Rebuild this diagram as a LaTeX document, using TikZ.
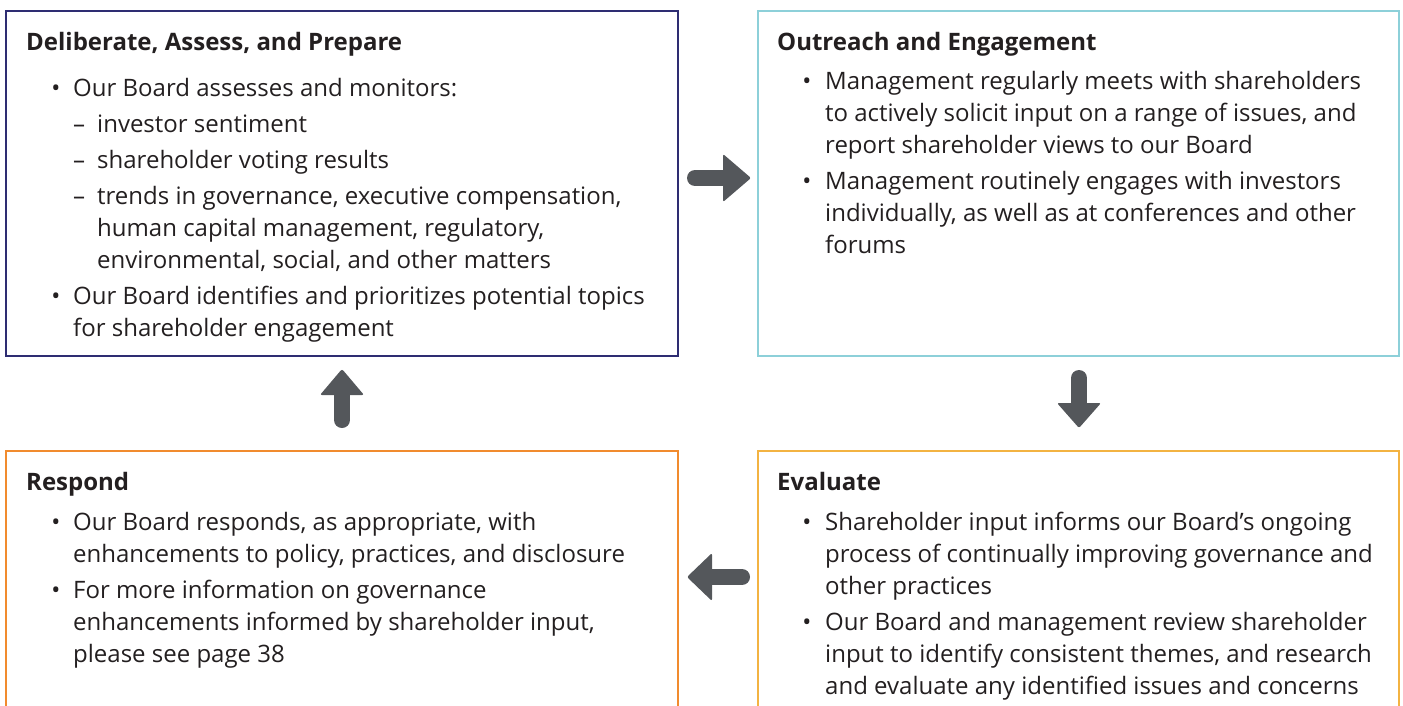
\documentclass[tikz,border=0pt]{standalone}
\usepackage{fontspec}
\setmainfont{Open Sans}
\definecolor{navyc}{HTML}{2E2D72}
\definecolor{tealc}{HTML}{8DD0D9}
\definecolor{orangec}{HTML}{F18B2E}
\definecolor{goldc}{HTML}{F3B342}
\definecolor{txtc}{HTML}{231F20}
\definecolor{arrc}{HTML}{54575B}
\newcommand\Ln[4]{\node[txt] (#1) at (#2,#3+2) {#4};}
\newcommand\Bu[3]{\node[bul] (#1) at (#2,#3+2) {\textbullet};}
\newcommand\Da[3]{\node[txt] (#1) at (#2,#3+2) {–};}
\begin{document}
\begin{tikzpicture}[x=1pt,y=-1pt,
  txt/.style={anchor=base west,inner sep=0,font=\fontsize{24}{32}\selectfont,text=txtc},
  bul/.style={anchor=base,inner sep=0,font=\fontsize{24}{32}\selectfont,text=txtc},
  ttl/.style={txt,font=\fontsize{24}{30}\selectfont\bfseries},
  boxline/.style={line width=2.5pt},
  blockarrow/.style={line width=16pt,line cap=round,draw=arrc},
  arrowhead/.style={fill=arrc,rounded corners=2pt}]
\useasboundingbox (0,0) rectangle (1403,705);
\clip (0,0) rectangle (1403,705);
% boxes
\coordinate (b1a) at (6,11); \coordinate (b1b) at (678,356);
\coordinate (b2a) at (758,11); \coordinate (b2b) at (1399,356);
\coordinate (b3a) at (6,451); \coordinate (b3b) at (678,730);
\coordinate (b4a) at (758,451); \coordinate (b4b) at (1399,730);
\draw[boxline,navyc] (b1a) rectangle (b1b);
\draw[boxline,tealc] (b2a) rectangle (b2b);
\draw[boxline,orangec] (b3a) rectangle (b3b);
\draw[boxline,goldc] (b4a) rectangle (b4b);
% box 1
\node[ttl] (t1) at (26,50) {Deliberate, Assess, and Prepare};
\Bu{u11}{56}{94} \Ln{l11}{73}{94}{Our Board assesses and monitors:}
\Da{d11}{73}{130} \Ln{l12}{97}{130}{investor sentiment}
\Da{d12}{73}{166} \Ln{l13}{97}{166}{shareholder voting results}
\Da{d13}{73}{202} \Ln{l14}{97}{202}{trends in governance, executive compensation,}
\Ln{l15}{97}{234}{human capital management, regulatory,}
\Ln{l16}{97}{266}{environmental, social, and other matters}
\Bu{u12}{56}{302} \Ln{l17}{73}{302}{Our Board identifies and prioritizes potential topics}
\Ln{l18}{73}{334}{for shareholder engagement}
% box 2
\node[ttl] (t2) at (777,50) {Outreach and Engagement};
\Bu{u21}{807}{87} \Ln{l21}{825}{87}{Management regularly meets with shareholders}
\Ln{l22}{825}{119}{to actively solicit input on a range of issues, and}
\Ln{l23}{825}{151}{report shareholder views to our Board}
\Bu{u22}{807}{187} \Ln{l24}{825}{187}{Management routinely engages with investors}
\Ln{l25}{825}{219}{individually, as well as at conferences and other}
\Ln{l26}{825}{251}{forums}
% box 3
\node[ttl] (t3) at (26,490) {Respond};
\Bu{u31}{56}{528} \Ln{l31}{73}{528}{Our Board responds, as appropriate, with}
\Ln{l32}{73}{560}{enhancements to policy, practices, and disclosure}
\Bu{u32}{56}{596} \Ln{l33}{73}{596}{For more information on governance}
\Ln{l34}{73}{628}{enhancements informed by shareholder input,}
\Ln{l35}{73}{660}{please see page 38}
% box 4
\node[ttl] (t4) at (777,490) {Evaluate};
\Bu{u41}{807}{528} \Ln{l41}{825}{528}{Shareholder input informs our Board’s ongoing}
\Ln{l42}{825}{560}{process of continually improving governance and}
\Ln{l43}{825}{592}{other practices}
\Bu{u42}{807}{628} \Ln{l44}{825}{628}{Our Board and management review shareholder}
\Ln{l45}{825}{660}{input to identify consistent themes, and research}
\Ln{l46}{825}{692}{and evaluate any identified issues and concerns}
% arrows
% right
\coordinate (ra1) at (695,178); \coordinate (ra2) at (726,178);
\draw[blockarrow] (ra1) -- (ra2);
\fill[arrowhead] (723,154) -- (751,178) -- (723,202) -- cycle;
% down
\coordinate (da1) at (1079,378); \coordinate (da2) at (1079,406);
\draw[blockarrow] (da1) -- (da2);
\fill[arrowhead] (1057,403) -- (1079,428) -- (1101,403) -- cycle;
% up
\coordinate (ua1) at (342,420); \coordinate (ua2) at (342,392);
\draw[blockarrow] (ua1) -- (ua2);
\fill[arrowhead] (320,395) -- (342,369) -- (364,395) -- cycle;
% left
\coordinate (la1) at (742,577); \coordinate (la2) at (709,577);
\draw[blockarrow] (la1) -- (la2);
\fill[arrowhead] (712,553) -- (687,577) -- (712,601) -- cycle;
\end{tikzpicture}
\end{document}
